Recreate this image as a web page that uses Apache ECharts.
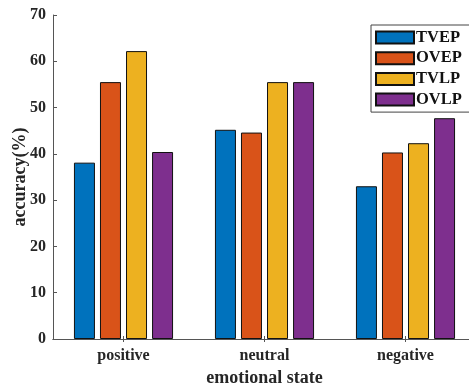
<!DOCTYPE html>
<html><head><meta charset="utf-8">
<script src="https://cdn.jsdelivr.net/npm/echarts@6/dist/echarts.min.js"></script>
<style>html,body{margin:0;padding:0;background:#fff}#c{width:469px;height:389px}</style>
</head><body><div id="c"></div>
<script>
var categories = ['positive', 'neutral', 'negative'];
var TVEP = [38.1, 45.2, 33.0];
var OVEP = [55.5, 44.6, 40.3];
var TVLP = [62.2, 55.5, 42.3];
var OVLP = [40.4, 55.5, 47.7];
var seriesNames = ['TVEP', 'OVEP', 'TVLP', 'OVLP'];
var colors = ['#0072BD', '#D95319', '#EDB120', '#7E2F8E'];
var yTicks = [0, 10, 20, 30, 40, 50, 60, 70];

var font = 'Liberation Serif';
var axisColor = '#555';
var chart = echarts.init(document.getElementById('c'), null, {renderer: 'canvas'});
var data = [TVEP, OVEP, TVLP, OVLP];
var series = data.map(function (d, i) {
  return {
    name: seriesNames[i], type: 'bar', data: d, barWidth: 21, barGap: '24%',
    itemStyle: {color: colors[i], borderColor: '#111', borderWidth: 1},
    xAxisIndex: 0, yAxisIndex: 0
  };
});
chart.setOption({
  animation: false,
  textStyle: {fontFamily: font},
  grid: {left: 53, top: 15, width: 423, height: 324, containLabel: false, outerBoundsMode: 'none'},
  legend: {
    orient: 'vertical', left: 371, top: 25, width: 95,
    padding: [4, 8, 4, 4], itemGap: 3.7, itemWidth: 38, itemHeight: 12,
    borderColor: '#444', borderWidth: 1, backgroundColor: '#fff',
    icon: 'rect',
    textStyle: {fontFamily: font, fontWeight: 'bold', fontSize: 16.5, lineHeight: 14, color: '#111', padding: [0, 0, 0, -3]},
    data: seriesNames
  },
  xAxis: [{
    type: 'category', data: categories, position: 'bottom',
    axisLine: {show: true, lineStyle: {color: axisColor}},
    axisTick: {show: true, inside: true, alignWithLabel: true, length: 3, lineStyle: {color: axisColor}},
    axisLabel: {fontFamily: font, fontWeight: 'bold', fontSize: 16, color: '#262626', margin: 9},
    name: 'emotional state', nameLocation: 'middle', nameGap: 30,
    nameTextStyle: {fontFamily: font, fontWeight: 'bold', fontSize: 18, color: '#262626'}
  }, {
    type: 'category', data: categories, position: 'top',
    axisLine: {show: true, lineStyle: {color: axisColor}},
    axisTick: {show: true, inside: true, alignWithLabel: true, length: 3, lineStyle: {color: axisColor}},
    axisLabel: {show: false}
  }],
  yAxis: [{
    type: 'value', min: 0, max: 70, interval: 10, position: 'left',
    splitLine: {show: false},
    axisLine: {show: true, lineStyle: {color: axisColor}},
    axisTick: {show: true, inside: true, length: 4, lineStyle: {color: axisColor}},
    axisLabel: {fontFamily: font, fontWeight: 'bold', fontSize: 16, color: '#262626', margin: 7,
      formatter: function (v) { return yTicks.indexOf(v) >= 0 ? String(v) : ''; }},
    name: 'accuracy(%)', nameLocation: 'middle', nameGap: 24, nameRotate: 90, nameMoveOverlap: false,
    nameTextStyle: {fontFamily: font, fontWeight: 'bold', fontSize: 18, color: '#262626'}
  }, {
    type: 'value', min: 0, max: 70, interval: 10, position: 'right',
    splitLine: {show: false},
    axisLine: {show: true, lineStyle: {color: axisColor}},
    axisTick: {show: true, inside: true, length: 4, lineStyle: {color: axisColor}},
    axisLabel: {show: false}
  }],
  series: series
});
</script></body></html>
